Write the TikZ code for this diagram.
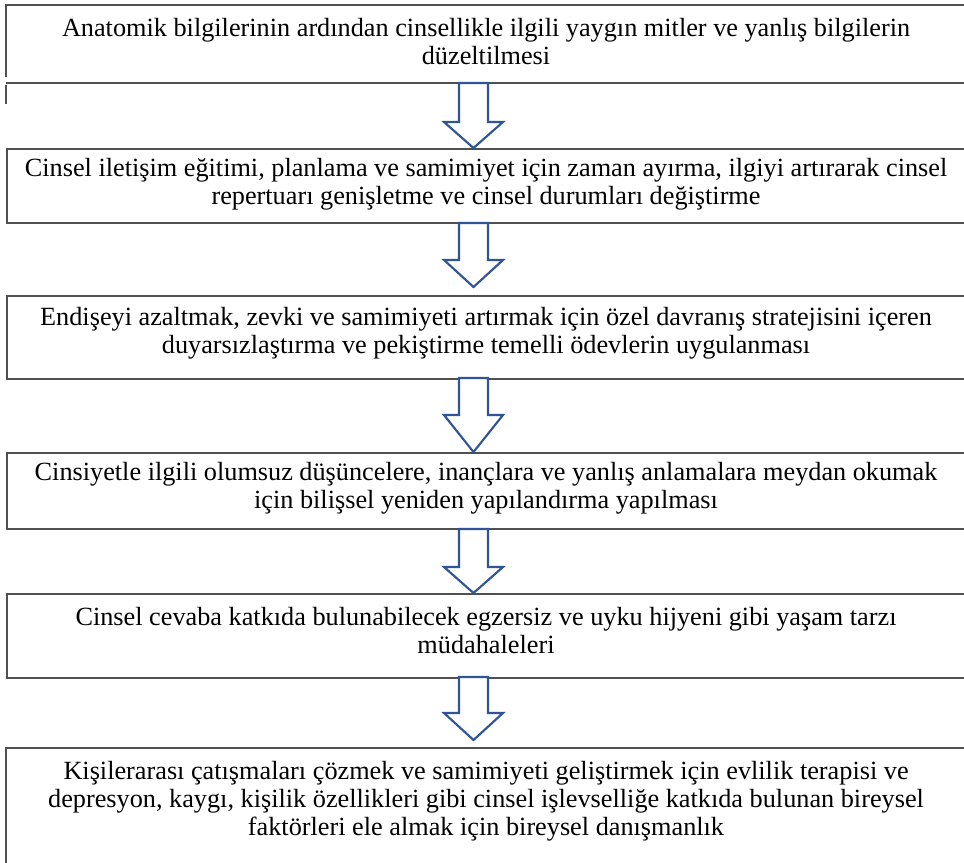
\documentclass[tikz,border=0pt]{standalone}
\usepackage{fontspec}
\setmainfont{Liberation Serif}
\newlength\reflen
\settowidth\reflen{\fontsize{10}{12}\selectfont Anatomik bilgilerinin ardından cinsellikle ilgili yaygın mitler ve yanlış bilgilerin}
\pgfmathsetmacro\fsz{10*636/\reflen}
\definecolor{boxline}{RGB}{80,80,80}
\definecolor{arrblue}{RGB}{47,85,151}
\tikzset{
  boxstyle/.style={draw=boxline, line width=1.3pt},
  blockarr/.style={draw=arrblue, fill=white, line width=1.6pt, line join=miter},
  txt/.style={font=\fontsize{\fsz pt}{21pt}\selectfont, align=center, inner sep=0pt, text=black},
  boxnode/.style={boxstyle, anchor=north west, minimum width=720pt, inner sep=0pt},
}
\newcommand\downblock[3]{%
  \draw[blockarr] (459,#1) -- (488,#1) -- (488,#2) -- (503,#2) -- (473.5,#3) -- (444,#2) -- (459,#2) -- cycle;}
\begin{document}
\begin{tikzpicture}[x=0.75pt,y=-0.75pt]
\useasboundingbox[fill=white] (0,0) rectangle (964,863);
% box 1 (irregular borders)
\draw[boxstyle] (970,5) -- (6,5) -- (6,77);
\draw[boxstyle] (6,83) -- (970,83);
\draw[boxstyle] (6,85) -- (6,104);
\node[txt] (t1) at (486,42) {Anatomik bilgilerinin ardından cinsellikle ilgili yaygın mitler ve yanlış bilgilerin\\düzeltilmesi};
% boxes
\node[boxnode, minimum height=55.5pt] (b2) at (6,148) {};
\node[boxnode, minimum height=62.25pt] (b3) at (6,295) {};
\node[boxnode, minimum height=57pt] (b4) at (6,452) {};
\node[boxnode, minimum height=63pt] (b5) at (6,593) {};
\draw[boxstyle] (970,748) -- (6,748) -- (6,870);
\node[txt] (t2) at (486,184) {Cinsel iletişim eğitimi, planlama ve samimiyet için zaman ayırma, ilgiyi artırarak cinsel\\repertuarı genişletme ve cinsel durumları değiştirme};
\node[txt] (t3) at (486,333) {Endişeyi azaltmak, zevki ve samimiyeti artırmak için özel davranış stratejisini içeren\\duyarsızlaştırma ve pekiştirme temelli ödevlerin uygulanması};
\node[txt] (t4) at (486,488) {Cinsiyetle ilgili olumsuz düşüncelere, inançlara ve yanlış anlamalara meydan okumak\\için bilişsel yeniden yapılandırma yapılması};
\node[txt] (t5) at (486,631) {Cinsel cevaba katkıda bulunabilecek egzersiz ve uyku hijyeni gibi yaşam tarzı\\müdahaleleri};
\node[txt] (t6) at (486,801) {Kişilerarası çatışmaları çözmek ve samimiyeti geliştirmek için evlilik terapisi ve\\depresyon, kaygı, kişilik özellikleri gibi cinsel işlevselliğe katkıda bulunan bireysel\\faktörleri ele almak için bireysel danışmanlık};
% arrows
\downblock{83}{122}{148}
\downblock{223}{260}{287}
\downblock{378}{415}{452}
\downblock{529}{567}{593}
\downblock{677}{713}{740}
\end{tikzpicture}
\end{document}
